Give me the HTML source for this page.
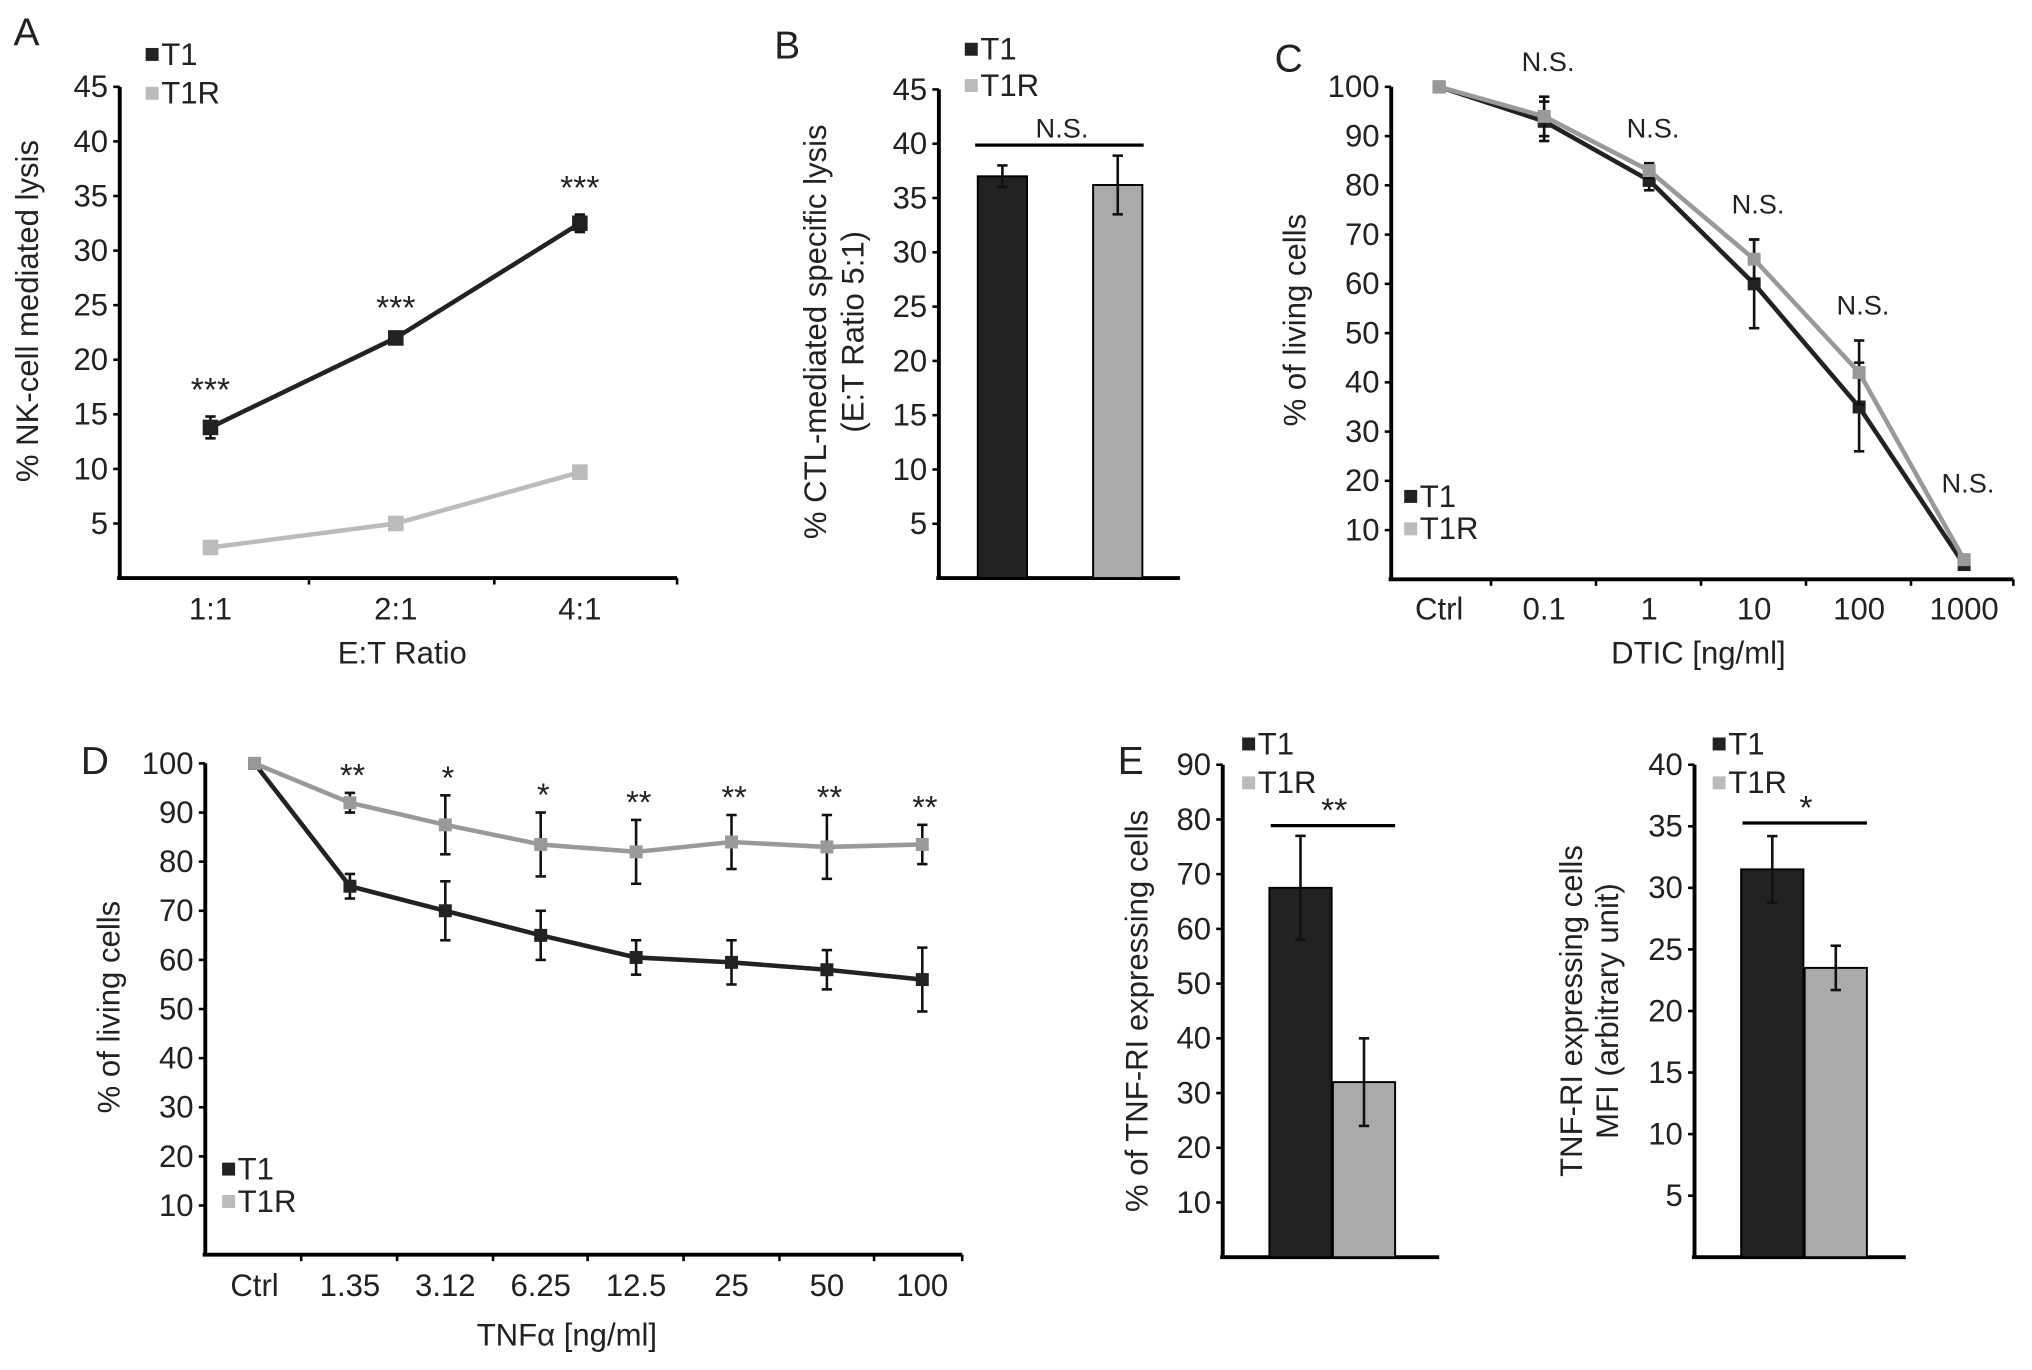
<!DOCTYPE html>
<html><head><meta charset="utf-8"><style>
html,body{margin:0;padding:0;background:#fff}
svg{display:block;font-family:"Liberation Sans",sans-serif}
</style></head><body>
<svg id="fig" width="2032" height="1370" viewBox="0 0 1567 1057" xmlns="http://www.w3.org/2000/svg"></svg>
<script>
// Panel A
const aCats=["1:1","2:1","4:1"];
const aT1=[13.8,22,32.5];
const aT1err=[1,0.3,0.8];
const aT1R=[2.8,5,9.7];
const aT1Rerr=[0.3,0.3,0.5];
const aTicks=[5,10,15,20,25,30,35,40,45];
const aSig=["***","***","***"];
// Panel B
const bCats=["T1","T1R"];
const bVals=[37,36.2];
const bErr=[1,2.7];
const bTicks=[5,10,15,20,25,30,35,40,45];
// Panel C
const cCats=["Ctrl","0.1","1","10","100","1000"];
const cT1=[100,93,81,60,35,3];
const cT1err=[1,4,2,9,9,1];
const cT1R=[100,94,83,65,42,4];
const cT1Rerr=[1,4,1.5,4,6.5,1];
const cTicks=[10,20,30,40,50,60,70,80,90,100];
const cSig=["","N.S.","N.S.","N.S.","N.S.","N.S."];
// Panel D
const dCats=["Ctrl","1.35","3.12","6.25","12.5","25","50","100"];
const dT1=[100,75,70,65,60.5,59.5,58,56];
const dT1err=[0,2.5,6,5,3.5,4.5,4,6.5];
const dT1R=[100,92,87.5,83.5,82,84,83,83.5];
const dT1Rerr=[0,2,6,6.5,6.5,5.5,6.5,4];
const dTicks=[10,20,30,40,50,60,70,80,90,100];
const dSig=["","**","*","*","**","**","**","**"];
// Panel E
const e1Vals=[67.5,32];
const e1Err=[9.5,8];
const e1Ticks=[10,20,30,40,50,60,70,80,90];
const e2Vals=[31.5,23.5];
const e2Err=[2.7,1.8];
const e2Ticks=[5,10,15,20,25,30,35,40];

const S=document.getElementById('fig');
const NS='http://www.w3.org/2000/svg';
function el(tag,attrs,parent,text){const e=document.createElementNS(NS,tag);for(const k in attrs)e.setAttribute(k,attrs[k]);if(text!==undefined)e.textContent=text;(parent||S).appendChild(e);return e;}
const DARK='#222',LG='#bbb',MG='#999';
const TF=24;

function group(name){const g=el('g',{},S);


return g;}
function txt(g,x,y,s,size,name,anchor,extra){const t=el('text',Object.assign({x:x,y:y,'font-size':size,'text-anchor':anchor||'middle',fill:'#222'},extra||{}),g,s);


return t;}
function axes(g,x0,x1,y0,yScale,ticks,xTicks){
  const top=yScale(ticks[ticks.length-1]);
  const ya=el('line',{x1:x0,y1:top,x2:x0,y2:y0,stroke:'#000','stroke-width':3},g);
  
  
  const xa=el('line',{x1:x0-2,y1:y0,x2:x1,y2:y0,stroke:'#000','stroke-width':3},g);
  
  
  ticks.forEach(v=>{const y=yScale(v);el('line',{x1:x0-5,y1:y,x2:x0,y2:y,stroke:'#000','stroke-width':2},g);
    txt(g,x0-9,y+8,String(v),TF,'y-tick-label','end');});
  (xTicks||[]).forEach(x=>el('line',{x1:x,y1:y0,x2:x,y2:y0+5,stroke:'#000','stroke-width':2},g));
}
function legend(g,x,y,dy){
  [['T1',DARK],['T1R',LG]].forEach((d,i)=>{
    const r=el('rect',{x:x,y:y+i*dy-11,width:10,height:10,fill:d[1]},g);
    
    
    txt(g,x+12,y+i*dy+2,d[0],TF,'legend-label-'+d[0].toLowerCase(),'start');
  });
}
function errbar(g,x,y1,y2,col){el('line',{x1:x,y1:y1,x2:x,y2:y2,stroke:col,'stroke-width':2},g);
  el('line',{x1:x-4,y1:y1,x2:x+4,y2:y1,stroke:col,'stroke-width':2},g);
  el('line',{x1:x-4,y1:y2,x2:x+4,y2:y2,stroke:col,'stroke-width':2},g);}
function series(g,xs,vals,errs,yScale,col,name,ms){
  ms=ms||10;
  const pts=vals.map((v,i)=>xs[i]+','+yScale(v)).join(' ');
  const pl=el('polyline',{points:pts,fill:'none',stroke:col,'stroke-width':3.5},g);
  
  
  vals.forEach((v,i)=>{
    if(errs[i]>0)errbar(g,xs[i],yScale(v+errs[i]),yScale(v-errs[i]),'#111');
    const m=el('rect',{x:xs[i]-ms/2,y:yScale(v)-ms/2,width:ms,height:ms,fill:col},g);
    
    
  });
}
function lin(v0,p0,v1,p1){return v=>p0+(v-v0)*(p1-p0)/(v1-v0);}

// ---- Panel A
(function(){const g=group('panel-a');
  const y=lin(0,446,45,67);
  const xs=[162,305,447];
  axes(g,92,522,446,y,aTicks,[238,381,522]);
  aCats.forEach((c,i)=>txt(g,xs[i],478,c,TF,'x-tick-label'));
  series(g,xs,aT1R,aT1Rerr,y,LG,'t1r',12);
  series(g,xs,aT1,aT1err,y,DARK,'t1',12);
  aSig.forEach((s,i)=>txt(g,xs[i],y(aT1[i]+aT1err[i])-12,s,26,'significance-label'));
  legend(g,112,48,30);
  txt(g,10,35,'A',30,'panel-label','start');
  txt(g,0,0,'% NK-cell mediated lysis',TF,'y-axis-title','middle',{transform:'translate(29,240) rotate(-90)'});
  txt(g,310,512,'E:T Ratio',TF,'x-axis-title');
})();
// ---- Panel B
(function(){const g=group('panel-b');
  const y=lin(0,446,45,69);
  const xs=[773,862];
  axes(g,724,910,446,y,bTicks,[]);
  bVals.forEach((v,i)=>{const r=el('rect',{x:xs[i]-19,y:y(v),width:38,height:446-y(v),fill:i?'#aaa':DARK,stroke:'#000','stroke-width':1.5},g);
    
    
    errbar(g,xs[i],y(v+bErr[i]),y(v-bErr[i]),'#111');});
  el('line',{x1:752,y1:112,x2:882,y2:112,stroke:'#000','stroke-width':2.5},g);
  txt(g,819,106,'N.S.',21,'significance-label');
  legend(g,744,44,28);
  txt(g,597,45,'B',30,'panel-label','start');
  txt(g,0,0,'% CTL-mediated specific lysis',TF,'y-axis-title','middle',{transform:'translate(637,256) rotate(-90)'});
  txt(g,0,0,'(E:T Ratio 5:1)',TF,'y-axis-title-2','middle',{transform:'translate(666,256) rotate(-90)'});
})();
// ---- Panel C
(function(){const g=group('panel-c');
  const y=lin(0,447,100,67);
  const xs=cCats.map((c,i)=>1110+i*81);
  axes(g,1073,1553,447,y,cTicks,[1150,1231,1312,1393,1474,1553]);
  cCats.forEach((c,i)=>txt(g,xs[i],478,c,TF,'x-tick-label'));
  series(g,xs,cT1,cT1err,y,DARK,'t1');
  series(g,xs,cT1R,cT1Rerr,y,MG,'t1r');
  cSig.forEach((s,i)=>{if(s)txt(g,xs[i]+3,Math.min(y(Math.max(cT1[i]+cT1err[i],cT1R[i]+cT1Rerr[i]))-20,380),s,21,'significance-label');});
  legend(g,1083,389,25);
  txt(g,983,55,'C',30,'panel-label','start');
  txt(g,0,0,'% of living cells',TF,'y-axis-title','middle',{transform:'translate(1007,247) rotate(-90)'});
  txt(g,1310,512,'DTIC [ng/ml]',TF,'x-axis-title');
})();
// ---- Panel D
(function(){const g=group('panel-d');
  const y=lin(0,968,100,589);
  const xs=dCats.map((c,i)=>196+i*73.6);
  axes(g,158,742,968,y,dTicks,[232,306,380,453,527,601,674,742]);
  dCats.forEach((c,i)=>txt(g,xs[i],1000,c,TF,'x-tick-label'));
  series(g,xs,dT1,dT1err,y,DARK,'t1');
  series(g,xs,dT1R,dT1Rerr,y,MG,'t1r');
  dSig.forEach((s,i)=>{if(s)txt(g,xs[i]+2,y(dT1R[i]+dT1Rerr[i])-5,s,25,'significance-label');});
  legend(g,171,908,25);
  txt(g,62,597,'D',30,'panel-label','start');
  txt(g,0,0,'% of living cells',TF,'y-axis-title','middle',{transform:'translate(92,777) rotate(-90)'});
  txt(g,437,1038,'TNFα [ng/ml]',TF,'x-axis-title');
})();
// ---- Panel E
function barPanel(name,x0,x1,yTop,topVal,ticks,vals,errs,sig,sigY,lx,title1,title2,t1x,t2x){
  const g=group(name);
  const y=lin(0,970,topVal,yTop);
  const xs=[x0+60,x0+109];
  axes(g,x0,x1,970,y,ticks,[]);
  vals.forEach((v,i)=>{const r=el('rect',{x:xs[i]-24,y:y(v),width:48,height:970-y(v),fill:i?'#aaa':DARK,stroke:'#000','stroke-width':1.5},g);
    
    
    errbar(g,xs[i],y(v+errs[i]),y(v-errs[i]),'#111');});
  el('line',{x1:x0+37,y1:sigY,x2:x0+133,y2:sigY,stroke:'#000','stroke-width':2.5},g);
  txt(g,x0+86,sigY-3,sig,26,'significance-label');
  legend(g,lx,580,30);
  txt(g,0,0,title1,TF,'y-axis-title','middle',{transform:'translate('+t1x+',780) rotate(-90)'});
  if(title2)txt(g,0,0,title2,TF,'y-axis-title-2','middle',{transform:'translate('+t2x+',780) rotate(-90)'});
  return g;
}
barPanel('panel-e-percent',943,1110,590,90,e1Ticks,e1Vals,e1Err,'**',637,958,'% of TNF-RI expressing cells',null,885);
barPanel('panel-e-mfi',1307,1470,590,40,e2Ticks,e2Vals,e2Err,'*',635,1321,'TNF-RI expressing cells','MFI (arbitrary unit)',1220,1248);
(function(){const g=group('panel-e-label');txt(g,862,597,'E',30,'panel-label','start');})();
</script>
</body></html>
